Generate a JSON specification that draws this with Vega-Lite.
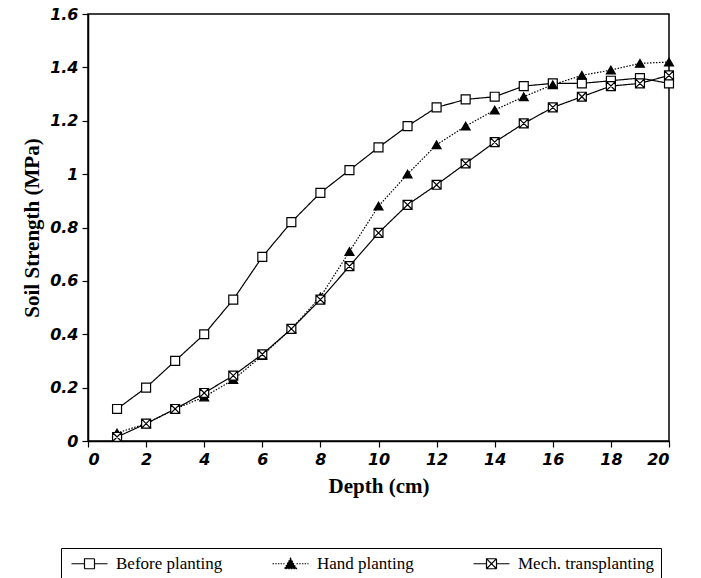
{
  "$schema": "https://vega.github.io/schema/vega-lite/v6.json",
  "width": 581,
  "height": 427,
  "autosize": {"type": "none"},
  "padding": {"left": 88, "top": 14, "right": 32, "bottom": 137},
  "background": "white",
  "config": {
    "view": {"stroke": "black", "strokeWidth": 1.5},
    "axis": {
      "domainColor": "black", "domainWidth": 1.5, "tickColor": "black", "tickWidth": 1.2, "tickSize": 6,
      "grid": false, "labelFont": "DejaVu Sans", "labelFontWeight": "bold", "labelFontStyle": "italic",
      "labelFontSize": 16, "labelColor": "black", "titleFont": "Liberation Serif", "titleFontWeight": "bold",
      "titleFontSize": 21, "titleColor": "#000000"
    },
    "legend": {
      "orient": "none", "direction": "horizontal", "columns": 3, "gridAlign": "all",
      "legendX": -27, "legendY": 534, "strokeColor": "black", "padding": 7,
      "labelFont": "Liberation Serif", "labelFontSize": 17, "labelColor": "black",
      "symbolSize": 100, "labelOffset": 18, "columnPadding": 18, "symbolStrokeWidth": 1.2
    }
  },
  "data": {"values": [
    {"depth": 1, "series": "Before planting", "strength": 0.12},
    {"depth": 2, "series": "Before planting", "strength": 0.2},
    {"depth": 3, "series": "Before planting", "strength": 0.3},
    {"depth": 4, "series": "Before planting", "strength": 0.4},
    {"depth": 5, "series": "Before planting", "strength": 0.53},
    {"depth": 6, "series": "Before planting", "strength": 0.69},
    {"depth": 7, "series": "Before planting", "strength": 0.82},
    {"depth": 8, "series": "Before planting", "strength": 0.93},
    {"depth": 9, "series": "Before planting", "strength": 1.015},
    {"depth": 10, "series": "Before planting", "strength": 1.1},
    {"depth": 11, "series": "Before planting", "strength": 1.18},
    {"depth": 12, "series": "Before planting", "strength": 1.25},
    {"depth": 13, "series": "Before planting", "strength": 1.28},
    {"depth": 14, "series": "Before planting", "strength": 1.29},
    {"depth": 15, "series": "Before planting", "strength": 1.33},
    {"depth": 16, "series": "Before planting", "strength": 1.34},
    {"depth": 17, "series": "Before planting", "strength": 1.34},
    {"depth": 18, "series": "Before planting", "strength": 1.35},
    {"depth": 19, "series": "Before planting", "strength": 1.36},
    {"depth": 20, "series": "Before planting", "strength": 1.34},
    {"depth": 1, "series": "Hand planting", "strength": 0.03},
    {"depth": 2, "series": "Hand planting", "strength": 0.065},
    {"depth": 3, "series": "Hand planting", "strength": 0.12},
    {"depth": 4, "series": "Hand planting", "strength": 0.165},
    {"depth": 5, "series": "Hand planting", "strength": 0.23},
    {"depth": 6, "series": "Hand planting", "strength": 0.32},
    {"depth": 7, "series": "Hand planting", "strength": 0.42},
    {"depth": 8, "series": "Hand planting", "strength": 0.54},
    {"depth": 9, "series": "Hand planting", "strength": 0.71},
    {"depth": 10, "series": "Hand planting", "strength": 0.88},
    {"depth": 11, "series": "Hand planting", "strength": 1.0},
    {"depth": 12, "series": "Hand planting", "strength": 1.11},
    {"depth": 13, "series": "Hand planting", "strength": 1.18},
    {"depth": 14, "series": "Hand planting", "strength": 1.24},
    {"depth": 15, "series": "Hand planting", "strength": 1.29},
    {"depth": 16, "series": "Hand planting", "strength": 1.335},
    {"depth": 17, "series": "Hand planting", "strength": 1.37},
    {"depth": 18, "series": "Hand planting", "strength": 1.39},
    {"depth": 19, "series": "Hand planting", "strength": 1.415},
    {"depth": 20, "series": "Hand planting", "strength": 1.42},
    {"depth": 1, "series": "Mech. transplanting", "strength": 0.015},
    {"depth": 2, "series": "Mech. transplanting", "strength": 0.065},
    {"depth": 3, "series": "Mech. transplanting", "strength": 0.12},
    {"depth": 4, "series": "Mech. transplanting", "strength": 0.18},
    {"depth": 5, "series": "Mech. transplanting", "strength": 0.245},
    {"depth": 6, "series": "Mech. transplanting", "strength": 0.325},
    {"depth": 7, "series": "Mech. transplanting", "strength": 0.42},
    {"depth": 8, "series": "Mech. transplanting", "strength": 0.53},
    {"depth": 9, "series": "Mech. transplanting", "strength": 0.655},
    {"depth": 10, "series": "Mech. transplanting", "strength": 0.78},
    {"depth": 11, "series": "Mech. transplanting", "strength": 0.885},
    {"depth": 12, "series": "Mech. transplanting", "strength": 0.96},
    {"depth": 13, "series": "Mech. transplanting", "strength": 1.04},
    {"depth": 14, "series": "Mech. transplanting", "strength": 1.12},
    {"depth": 15, "series": "Mech. transplanting", "strength": 1.19},
    {"depth": 16, "series": "Mech. transplanting", "strength": 1.25},
    {"depth": 17, "series": "Mech. transplanting", "strength": 1.29},
    {"depth": 18, "series": "Mech. transplanting", "strength": 1.33},
    {"depth": 19, "series": "Mech. transplanting", "strength": 1.34},
    {"depth": 20, "series": "Mech. transplanting", "strength": 1.37}
  ]},
  "encoding": {
    "x": {"field": "depth", "type": "quantitative", "title": "Depth (cm)",
      "scale": {"domain": [0, 20], "nice": false},
      "axis": {"values": [0, 2, 4, 6, 8, 10, 12, 14, 16, 18, 20], "labelPadding": 4, "titlePadding": 8}},
    "y": {"field": "strength", "type": "quantitative", "title": "Soil Strength (MPa)",
      "scale": {"domain": [0, 1.6], "nice": false},
      "axis": {"values": [0, 0.2, 0.4, 0.6, 0.8, 1, 1.2, 1.4, 1.6], "format": "~f", "labelPadding": 4, "titlePadding": 7}}
  },
  "layer": [
    {
      "mark": {"type": "line", "color": "black", "strokeWidth": 1.2},
      "encoding": {
        "detail": {"field": "series", "type": "nominal"},
        "strokeDash": {"condition": {"test": "datum.series === 'Hand planting'", "value": [1.5, 1.5]}, "value": [1, 0]}
      }
    },
    {
      "mark": {"type": "point", "filled": true, "stroke": "black", "strokeWidth": 1.2, "size": 80, "opacity": 1},
      "encoding": {
        "fill": {"condition": {"test": "datum.series === 'Hand planting'", "value": "black"}, "value": "white"},
        "shape": {"condition": [
          {"test": "datum.series === 'Hand planting'", "value": "triangle-up"},
          {"test": "datum.series === 'Mech. transplanting'", "value": "M-1,-1H1V1H-1ZM-1,-1L1,1M1,-1L-1,1"}
        ], "value": "square"}
      }
    },
    {
      "transform": [{"filter": "false"}],
      "mark": {"type": "point", "filled": true, "stroke": "black", "strokeWidth": 1.2, "opacity": 1},
      "encoding": {
        "shape": {"field": "series", "type": "nominal",
          "legend": {"title": " ", "titleOrient": "left", "titlePadding": 13, "titleFontSize": 17},
          "scale": {"domain": ["Before planting", "Hand planting", "Mech. transplanting"],
            "range": ["M-3.6,0H-1M-1,-1H1V1H-1ZM1,0H3.6", "M-3.6,0H-1.2M0,-1.1L1.2,1H-1.2ZM1.2,0H3.6", "M-3.6,0H-1M-1,-1H1V1H-1ZM-1,-1L1,1M1,-1L-1,1M1,0H3.6"]}},
        "fill": {"field": "series", "type": "nominal",
          "legend": {"title": " ", "titleOrient": "left", "titlePadding": 13, "titleFontSize": 17},
          "scale": {"domain": ["Before planting", "Hand planting", "Mech. transplanting"], "range": ["white", "black", "white"]}},
        "strokeDash": {"field": "series", "type": "nominal",
          "legend": {"title": " ", "titleOrient": "left", "titlePadding": 13, "titleFontSize": 17},
          "scale": {"domain": ["Before planting", "Hand planting", "Mech. transplanting"], "range": [[1, 0], [1.5, 1.2], [1, 0]]}}
      }
    }
  ]
}
